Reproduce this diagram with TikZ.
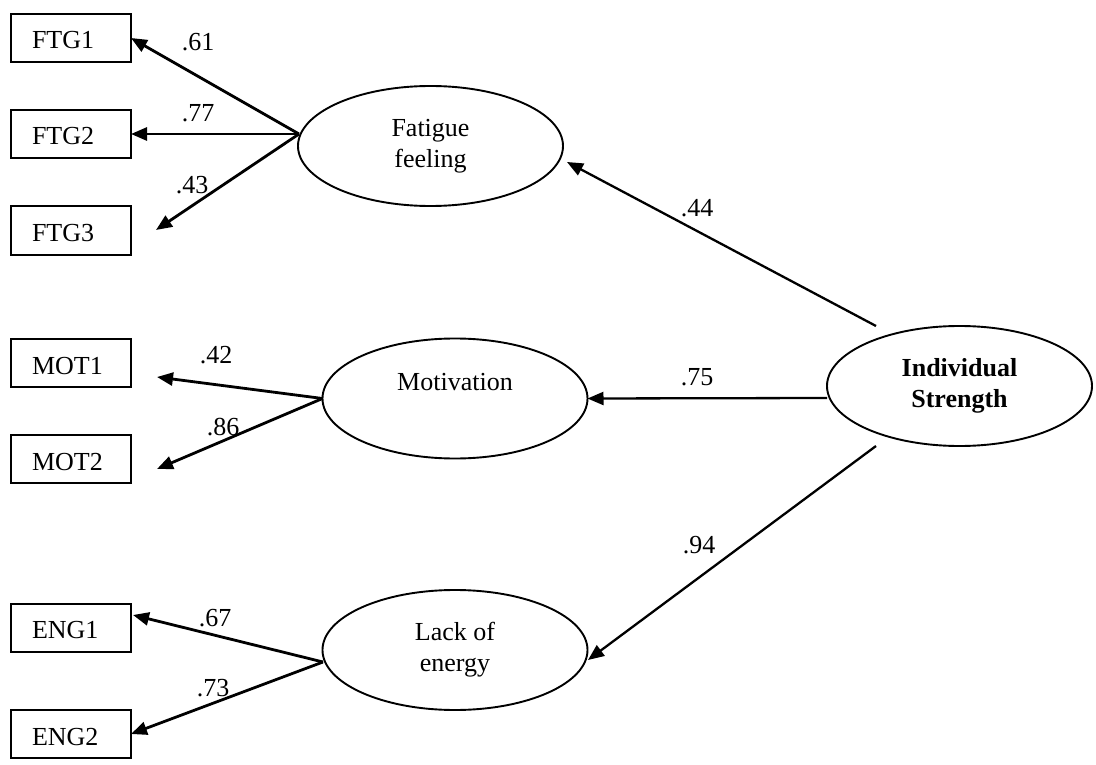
\documentclass[tikz,border=0pt]{standalone}
\usepackage{fontspec}
\setmainfont{Liberation Serif}
\usetikzlibrary{shapes.geometric,arrows.meta}
\begin{document}
\begin{tikzpicture}[x=1pt,y=-1pt,
  txt/.style={font=\fontsize{26}{31}\selectfont},
  indicator/.style={txt,draw,line width=2pt,minimum width=120pt,minimum height=48pt,
    inner xsep=21pt,inner ysep=0pt,outer sep=0pt,text width=78pt,align=left,
    text height=22pt,text depth=0pt},
  latent/.style={txt,draw,ellipse,line width=1.9pt,minimum width=265pt,minimum height=120pt,
    inner sep=0pt,outer sep=0pt,align=center},
  loading/.style={line width=2.8pt,-{Triangle[length=16pt,width=13pt]}},
  structpath/.style={line width=2.3pt,-{Triangle[length=16pt,width=13pt]}},
  coef/.style={txt,inner sep=0pt}
]
\useasboundingbox (0,0) rectangle (1096,765);

% observed indicators
\node[indicator] (ftg1) at (71,38)    {FTG1};
\node[indicator] (ftg2) at (71,134)   {FTG2};
\node[indicator] (ftg3) at (71,230.5) {FTG3};
\node[indicator] (mot1) at (71,363)   {MOT1};
\node[indicator] (mot2) at (71,459)   {MOT2};
\node[indicator] (eng1) at (71,627.5) {ENG1};
\node[indicator] (eng2) at (71,734)   {ENG2};

% latent factors
\node[latent] (fat)  at (430.5,146) {Fatigue\\feeling};
\node[latent] (mot)  at (455,398.5) {};
\node[txt, inner sep=0pt] (mot-txt) at (455,382) {Motivation};
\node[latent] (lack) at (455,650)   {Lack of\\energy};
\node[latent, font=\fontsize{26}{31}\selectfont\bfseries] (ind) at (959.5,386) {Individual\\Strength};

% connector end points
\coordinate (fat-src)  at (299,134);
\coordinate (ftg3-tip) at (156,230);
\coordinate (mot1-tip) at (157,377);
\coordinate (mot2-tip) at (157,469);
\coordinate (lack-src) at (323,662);
\coordinate (eng1-tip) at (133,615);
\coordinate (ind-up)   at (876,326);
\coordinate (ind-mid)  at (827,398);
\coordinate (ind-low)  at (876,446);
\coordinate (fat-in)   at (567,162);
\coordinate (lack-in)  at (588,660);

% factor loadings
\draw[loading] (fat-src) -- (ftg1.east);
\draw[loading] (fat-src) -- (ftg2.east);
\draw[loading] (fat-src) -- (ftg3-tip);
\draw[loading] (mot.west) -- (mot1-tip);
\draw[loading] (mot.west) -- (mot2-tip);
\draw[loading] (lack-src) -- (eng1-tip);
\draw[loading] (lack-src) -- (eng2.east);

% second-order paths
\draw[structpath] (ind-up) -- (fat-in);
\draw[structpath] (ind-mid) -- (mot.east);
\draw[structpath] (ind-low) -- (lack-in);

% coefficients
\node[coef] (c61) at (198,42)  {.61};
\node[coef] (c77) at (198,113) {.77};
\node[coef] (c43) at (192,185) {.43};
\node[coef] (c42) at (216,355) {.42};
\node[coef] (c86) at (223,427) {.86};
\node[coef] (c67) at (215,618) {.67};
\node[coef] (c73) at (213,688) {.73};
\node[coef] (c44) at (697,208) {.44};
\node[coef] (c75) at (697,377) {.75};
\node[coef] (c94) at (699,545) {.94};
\end{tikzpicture}
\end{document}
